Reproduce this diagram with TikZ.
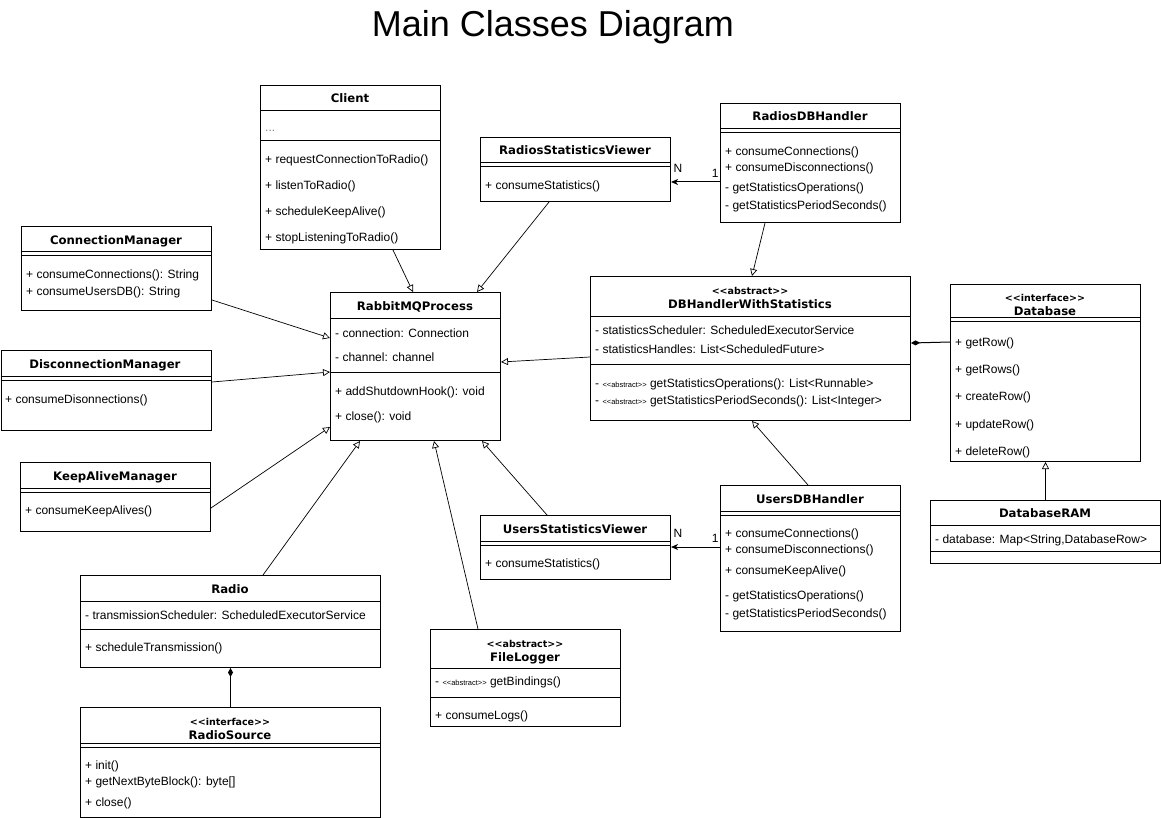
\documentclass[tikz,border=0pt]{standalone}
\usepackage{fontspec}
\setmainfont{Liberation Sans}
\newfontfamily\bodyfont{Liberation Sans}
\newfontfamily\headfont{DejaVu Sans}
\usetikzlibrary{arrows.meta}
\newcommand{\abstag}{{\fontsize{7.5}{9}\selectfont <<abstract>>}}
\tikzset{
  cls/.style={draw, line width=1pt, inner sep=0pt, anchor=north west},
  cname/.style={font=\headfont\bfseries\fontsize{11.7}{14}\selectfont, inner sep=0pt, text height=11pt, text depth=1pt},
  stereo/.style={font=\headfont\bfseries\fontsize{9.5}{11}\selectfont, inner sep=0pt, text height=8.5pt, text depth=0.5pt},
  member/.style={font=\bodyfont\fontsize{12}{14}\selectfont, anchor=west, inner sep=0pt, text height=11pt, text depth=1pt},
  sep/.style={line width=1pt},
  inherit/.style={line width=0.7pt, -{Triangle[open, length=7pt, width=7pt, fill=white]}},
  assoc/.style={line width=1pt, -{Stealth[length=7pt, width=6pt, inset=2pt]}},
  compose/.style={line width=1pt, {Diamond[length=9pt, width=5pt]}-},
  mult/.style={font=\bodyfont\fontsize{12}{14}\selectfont, inner sep=0pt},
}
\begin{document}
\begin{tikzpicture}[x=1pt, y=-1pt]
\useasboundingbox (0,0) rectangle (1161,818);
\node[font=\bodyfont\fontsize{36}{40}\selectfont] (title) at (553,27) {Main Classes Diagram};

% Client
\node[cls, minimum width=180pt, minimum height=164pt] (client) at (260,85) {};
\node[cname] (client-name) at (350,98) {Client};
\draw[sep] (260,111) -- (440,111);
\node[member, text=gray] (client-a1) at (265,127) {...};
\draw[sep] (260,141) -- (440,141);
\node[member] (client-m1) at (265,159) {+ requestConnectionToRadio()};
\node[member] (client-m2) at (265,185) {+ listenToRadio()};
\node[member] (client-m3) at (265,211) {+ scheduleKeepAlive()};
\node[member] (client-m4) at (265,237) {+ stopListeningToRadio()};

% ConnectionManager
\node[cls, minimum width=190pt, minimum height=84pt] (connmgr) at (21,226) {};
\node[cname] (connmgr-name) at (116,239) {ConnectionManager};
\draw[sep] (21,252) -- (211,252);
\draw[sep] (21,256) -- (211,256);
\node[member] (connmgr-m1) at (26,273) {+ consumeConnections(): String};
\node[member] (connmgr-m2) at (26,290) {+ consumeUsersDB(): String};

% DisconnectionManager
\node[cls, minimum width=210.5pt, minimum height=80pt] (discmgr) at (0.5,350) {};
\node[cname] (discmgr-name) at (105,363) {DisconnectionManager};
\draw[sep] (0.5,376) -- (211,376);
\draw[sep] (0.5,380) -- (211,380);
\node[member] (discmgr-m1) at (5,398) {+ consumeDisonnections()};

% KeepAliveManager
\node[cls, minimum width=190pt, minimum height=69pt] (keepalive) at (20,462) {};
\node[cname] (keepalive-name) at (115,475) {KeepAliveManager};
\draw[sep] (20,488) -- (210,488);
\draw[sep] (20,492) -- (210,492);
\node[member] (keepalive-m1) at (25,509) {+ consumeKeepAlives()};

% RabbitMQProcess
\node[cls, minimum width=170pt, minimum height=148pt] (rabbit) at (330,292) {};
\node[cname] (rabbit-name) at (415,305) {RabbitMQProcess};
\draw[sep] (330,318) -- (500,318);
\node[member] (rabbit-a1) at (335,332) {- connection: Connection};
\node[member] (rabbit-a2) at (335,356) {- channel: channel};
\draw[sep] (330,372) -- (500,372);
\node[member] (rabbit-m1) at (335,390) {+ addShutdownHook(): void};
\node[member] (rabbit-m2) at (335,415) {+ close(): void};

% RadiosStatisticsViewer
\node[cls, minimum width=190pt, minimum height=64pt] (rsv) at (480,137) {};
\node[cname] (rsv-name) at (575,150) {RadiosStatisticsViewer};
\draw[sep] (480,163) -- (670,163);
\draw[sep] (480,167) -- (670,167);
\node[member] (rsv-m1) at (485,185) {+ consumeStatistics()};

% RadiosDBHandler
\node[cls, minimum width=180pt, minimum height=119pt] (radiosdb) at (720,103) {};
\node[cname] (radiosdb-name) at (810,116) {RadiosDBHandler};
\draw[sep] (720,129) -- (900,129);
\draw[sep] (720,133) -- (900,133);
\node[member] (radiosdb-m1) at (725,151) {+ consumeConnections()};
\node[member] (radiosdb-m2) at (725,167) {+ consumeDisconnections()};
\node[member] (radiosdb-m3) at (725,187) {- getStatisticsOperations()};
\node[member] (radiosdb-m4) at (725,205) {- getStatisticsPeriodSeconds()};

% DBHandlerWithStatistics
\node[cls, minimum width=320pt, minimum height=144pt] (dbh) at (590,276) {};
\node[stereo] (dbh-st) at (750,290) {<<abstract>>};
\node[cname] (dbh-name) at (750,303) {DBHandlerWithStatistics};
\draw[sep] (590,316) -- (910,316);
\node[member] (dbh-a1) at (595,329) {- statisticsScheduler: ScheduledExecutorService};
\node[member] (dbh-a2) at (595,348) {- statisticsHandles: List<ScheduledFuture>};
\draw[sep] (590,364) -- (910,364);
\node[member] (dbh-m1) at (595,382) {- \abstag{} getStatisticsOperations(): List<Runnable>};
\node[member] (dbh-m2) at (595,399) {- \abstag{} getStatisticsPeriodSeconds(): List<Integer>};

% Database
\node[cls, minimum width=190pt, minimum height=177pt] (database) at (950,284) {};
\node[stereo] (database-st) at (1045,297) {<<interface>>};
\node[cname] (database-name) at (1045,310) {Database};
\draw[sep] (950,317) -- (1140,317);
\draw[sep] (950,321) -- (1140,321);
\node[member] (database-m1) at (955,341) {+ getRow()};
\node[member] (database-m2) at (955,368) {+ getRows()};
\node[member] (database-m3) at (955,395) {+ createRow()};
\node[member] (database-m4) at (955,423) {+ updateRow()};
\node[member] (database-m5) at (955,450) {+ deleteRow()};

% DatabaseRAM
\node[cls, minimum width=230pt, minimum height=63pt] (dbram) at (930,500) {};
\node[cname] (dbram-name) at (1045,512) {DatabaseRAM};
\draw[sep] (930,525) -- (1160,525);
\node[member] (dbram-a1) at (935,538) {- database: Map<String,DatabaseRow>};
\draw[sep] (930,551) -- (1160,551);

% UsersStatisticsViewer
\node[cls, minimum width=190pt, minimum height=64pt] (usv) at (480,515) {};
\node[cname] (usv-name) at (575,528) {UsersStatisticsViewer};
\draw[sep] (480,541) -- (670,541);
\draw[sep] (480,545) -- (670,545);
\node[member] (usv-m1) at (485,562) {+ consumeStatistics()};

% UsersDBHandler
\node[cls, minimum width=180pt, minimum height=146pt] (usersdb) at (720,485) {};
\node[cname] (usersdb-name) at (810,498) {UsersDBHandler};
\draw[sep] (720,511) -- (900,511);
\draw[sep] (720,515) -- (900,515);
\node[member] (usersdb-m1) at (725,532) {+ consumeConnections()};
\node[member] (usersdb-m2) at (725,548) {+ consumeDisconnections()};
\node[member] (usersdb-m3) at (725,569) {+ consumeKeepAlive()};
\node[member] (usersdb-m4) at (725,594) {- getStatisticsOperations()};
\node[member] (usersdb-m5) at (725,612) {- getStatisticsPeriodSeconds()};

% Radio
\node[cls, minimum width=300pt, minimum height=92pt] (radio) at (80,575) {};
\node[cname] (radio-name) at (230,588) {Radio};
\draw[sep] (80,601) -- (380,601);
\node[member] (radio-a1) at (85,614) {- transmissionScheduler: ScheduledExecutorService};
\draw[sep] (80,629) -- (380,629);
\node[member] (radio-m1) at (85,646) {+ scheduleTransmission()};

% FileLogger
\node[cls, minimum width=190pt, minimum height=97pt] (filelogger) at (430,629) {};
\node[stereo] (filelogger-st) at (525,643) {<<abstract>>};
\node[cname] (filelogger-name) at (525,656) {FileLogger};
\draw[sep] (430,668) -- (620,668);
\node[member] (filelogger-a1) at (435,680) {- \abstag{} getBindings()};
\draw[sep] (430,697) -- (620,697);
\node[member] (filelogger-m1) at (435,714) {+ consumeLogs()};

% RadioSource
\node[cls, minimum width=300pt, minimum height=110pt] (radiosource) at (80,707) {};
\node[stereo] (radiosource-st) at (230,721) {<<interface>>};
\node[cname] (radiosource-name) at (230,734) {RadioSource};
\draw[sep] (80,743) -- (380,743);
\draw[sep] (80,747) -- (380,747);
\node[member] (radiosource-m1) at (85,764) {+ init()};
\node[member] (radiosource-m2) at (85,780) {+ getNextByteBlock(): byte[]};
\node[member] (radiosource-m3) at (85,801) {+ close()};

% connectors
\draw[inherit] ([xshift=133pt]client.south west) -- ([xshift=83pt]rabbit.north west);
\draw[inherit] ([xshift=69pt]rsv.south west) -- ([xshift=147pt]rabbit.north west);
\draw[inherit] ([yshift=11pt]connmgr.south east) -- ([yshift=-46pt]rabbit.north west);
\draw[inherit] ([yshift=-32pt]discmgr.north east) -- ([yshift=-80pt]rabbit.north west);
\draw[inherit] ([yshift=-46pt]keepalive.north east) -- ([yshift=14pt]rabbit.south west);
\draw[inherit] ([xshift=183pt]radio.north west) -- ([xshift=30pt]rabbit.south west);
\draw[inherit] ([xshift=48pt]filelogger.north west) -- ([xshift=104pt]rabbit.south west);
\draw[inherit] ([xshift=67pt]usv.north west) -- ([xshift=152pt]rabbit.south west);
\draw[inherit] ([yshift=-81pt]dbh.north west) -- ([yshift=-70pt]rabbit.north east);
\draw[inherit] ([xshift=45pt]radiosdb.south west) -- ([xshift=162pt]dbh.north west);
\draw[inherit] ([xshift=88pt]usersdb.north west) -- ([xshift=162pt]dbh.south west);
\draw[inherit] (dbram.north) -- (database.south);
\draw[assoc] ([yshift=-79pt]radiosdb.north west) -- ([yshift=-45pt]rsv.north east)
  node[mult, at start, anchor=south east, xshift=-1pt, yshift=4pt] (radiosdb-one) {1}
  node[mult, at end, anchor=south west, xshift=2pt, yshift=9pt] (rsv-many) {N};
\draw[assoc] ([yshift=-62pt]usersdb.north west) -- ([yshift=-32pt]usv.north east)
  node[mult, at start, anchor=south east, xshift=-1pt, yshift=4pt] (usersdb-one) {1}
  node[mult, at end, anchor=south west, xshift=2pt, yshift=9pt] (usv-many) {N};
\draw[compose] ([yshift=-67pt]dbh.north east) -- ([yshift=-58pt]database.north west);
\draw[compose] (radio.south) -- (radiosource.north);
\end{tikzpicture}
\end{document}
